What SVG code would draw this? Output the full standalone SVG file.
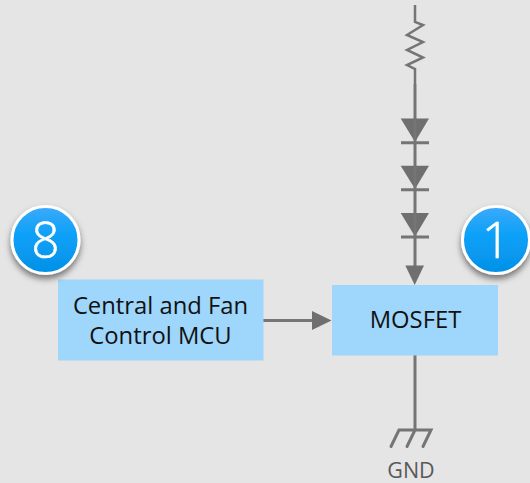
<svg xmlns="http://www.w3.org/2000/svg" width="530" height="483" viewBox="0 0 530 483">
<style>
.w{fill:none;stroke:#757575;stroke-width:3}
.z{fill:none;stroke:#757575;stroke-width:2.500}
.h{fill:#6f6f6f;stroke:none}
.box{fill:#9fd6fb}
.t{font-family:"Open Sans","Noto Sans",sans-serif;font-size:23.800px;fill:#111;text-anchor:middle}
.badge{stroke:#fff;stroke-width:3;fill:url(#bg);filter:url(#sh)}
.n{font-family:"Open Sans","Noto Sans",sans-serif;font-size:49px;font-weight:300;fill:#fff;stroke:#fff;stroke-width:0.600;text-anchor:middle}
</style>
<defs>
<linearGradient id="bg" x1="0" y1="0" x2="0" y2="1"><stop offset="0" stop-color="#3daafa"/><stop offset="0.45" stop-color="#09a0f8"/><stop offset="1" stop-color="#0590e6"/></linearGradient>
<filter id="sh" x="-30%" y="-30%" width="160%" height="170%"><feDropShadow dx="0" dy="4" stdDeviation="3" flood-color="#000" flood-opacity="0.5"/></filter>
</defs>
<rect width="530" height="483" fill="#e5e5e5"/>
<g id="connectors">
<path class="z" d="M415 5V22L423 25 407 35 423 42 407 50 423 57.500 407 65 415 69V84"/>
<path class="w" d="M415 84V119"/>
<path class="h" d="M400.700 118.500H429L415 142Z"/>
<path class="w" d="M415 119V166M401 142.700H429"/>
<path class="h" d="M400.700 165.700H429L415 189Z"/>
<path class="w" d="M415 166V213M401 189.700H429"/>
<path class="h" d="M400.700 213H429L415 236.500Z"/>
<path class="w" d="M415 213V266M401 237H429"/>
<path class="h" d="M405.300 265.500H424L414.700 285Z"/>
<path class="w" d="M263 320.500H313"/>
<path class="h" d="M312 311V330L331.500 320.500Z"/>
<path class="w" d="M415 355V430"/>
<path class="w" stroke-linecap="round" d="M391 446.500L399 430H431L423 446.500M407 446.500L415 430"/>
</g>
<g id="mcu"><rect class="box" x="58" y="279.500" width="205.500" height="81"/>
<text class="t" x="160.500" y="313.500">Central and Fan</text><text class="t" x="160.500" y="344">Control MCU</text></g>
<g id="mosfet"><rect class="box" x="332" y="285" width="166" height="70.500"/>
<text class="t" x="415.500" y="328">MOSFET</text></g>
<g id="gnd"><text x="411" y="478" font-family="Open Sans,Noto Sans,sans-serif" font-size="21.500" fill="#595959" text-anchor="middle">GND</text></g>
<g id="badge8"><circle class="badge" cx="45.500" cy="240" r="33.500"/><text class="n" x="45.500" y="258">8</text></g>
<g id="badge1"><circle class="badge" cx="496" cy="240" r="33.500"/><text class="n" x="496" y="258">1</text></g>
</svg>
